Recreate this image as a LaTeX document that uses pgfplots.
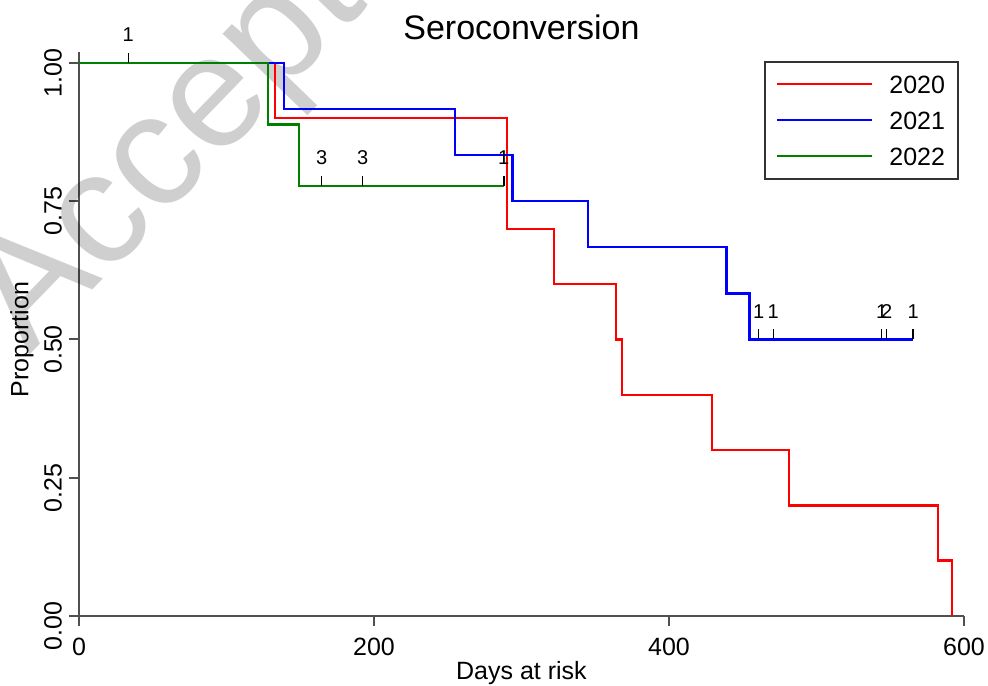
\documentclass[border=0pt]{standalone}
\usepackage{pgfplots}
\pgfplotsset{compat=1.18}
\usepackage{fontspec}
\setmainfont{Liberation Sans}

\definecolor{kmred}{RGB}{255,0,0}
\definecolor{kmblue}{RGB}{0,0,255}
\definecolor{kmgreen}{RGB}{0,128,0}
\definecolor{axisgray}{RGB}{80,80,80}

\begin{document}
\begin{tikzpicture}
\begin{axis}[
  scale only axis,
  width=442.5pt, height=281.75pt,
  xmin=0, xmax=600, ymin=0, ymax=1.019,
  axis lines=left,
  axis line style={-, axisgray, line width=1pt},
  x axis line style={-}, y axis line style={-},
  tick style={axisgray, line width=1pt},
  tick align=outside,
  major tick length=5pt,
  xtick={0,200,400,600},
  ytick={0,0.25,0.5,0.75,1},
  yticklabels={0.00,0.25,0.50,0.75,1.00},
  /pgf/number format/assume math mode=true,
  ticklabel style={font=\fontsize{12.5}{14}\selectfont},
  xticklabel style={yshift=-2.5pt},
  yticklabel style={rotate=90, anchor=south, xshift=-5pt},
  title={Seroconversion},
  title style={at={(axis description cs:0.5,1)}, anchor=center, yshift=6.75pt, font=\fontsize{17}{20}\selectfont},
  xlabel={Days at risk},
  ylabel={Proportion},
  every axis x label/.style={at={(axis description cs:0.5,0)}, anchor=center, yshift=-28.5pt, font=\fontsize{12.5}{14}\selectfont},
  every axis y label/.style={at={(axis description cs:-0.0644,0.4907)}, rotate=90, anchor=center, font=\fontsize{12.5}{14}\selectfont},
  legend style={at={(rel axis cs:0.774,0.9855)}, anchor=north west,
    draw=black!80, line width=1pt, inner xsep=5.5pt, inner ysep=6.8pt,
    row sep=9pt, column sep=8pt, font=\fontsize{12.5}{14}\selectfont,
    nodes={inner sep=0pt, text height=9pt, text depth=0pt, text width=29pt, align=left}},
  legend cell align=left,
  legend image code/.code={\draw[#1, line width=1.2pt] (0pt,0pt) -- (47.5pt,0pt);},
  clip=false,
]

% watermark
\node[rotate=46, anchor=base west, text=black, text opacity=0.19,
  font=\fontsize{80}{85}\selectfont] at (axis cs:-36.6,0.461) {Accepted};

\addplot[kmred, line width=1.2pt, const plot] coordinates {
  (0,1.0) (133,0.9) (290,0.7) (322,0.6) (364,0.5) (368,0.4)
  (429,0.3) (481.5,0.2) (582.5,0.1) (592,0.0)
};
\addlegendentry{2020}

\addplot[kmblue, line width=1.2pt, const plot] coordinates {
  (0,1.0) (139,0.9167) (255,0.8333) (294,0.75) (345,0.6667)
  (439,0.5833) (454.5,0.5) (565.6,0.5)
};
\addlegendentry{2021}

\addplot[kmgreen, line width=1.2pt, const plot] coordinates {
  (0,1.0) (128,0.8889) (149,0.7778) (288,0.7778)
};
\addlegendentry{2022}

% censoring marks with counts
\addplot[black, only marks, mark=|, mark size=2.5pt,
  mark options={yshift=2.5pt, line width=0.75pt},
  nodes near coords, point meta=explicit symbolic,
  every node near coord/.append style={anchor=center, yshift=11.5pt,
    font=\fontsize{10}{12}\selectfont, text=black},
  forget plot] coordinates {
  (33.4,1.0) [1]
  (164.5,0.7778) [3]
  (192.3,0.7778) [3]
  (288,0.7778) [1]
  (460.8,0.5) [1]
  (470.7,0.5) [1]
  (544.2,0.5) [1]
  (547.6,0.5) [2]
  (565.6,0.5) [1]
};

\coordinate (bl) at (axis cs:-53.56,-0.1266);
\coordinate (tr) at (axis cs:616.3,1.1139);
\end{axis}
\pgfresetboundingbox
\useasboundingbox (bl) rectangle (tr);
\end{tikzpicture}
\end{document}
